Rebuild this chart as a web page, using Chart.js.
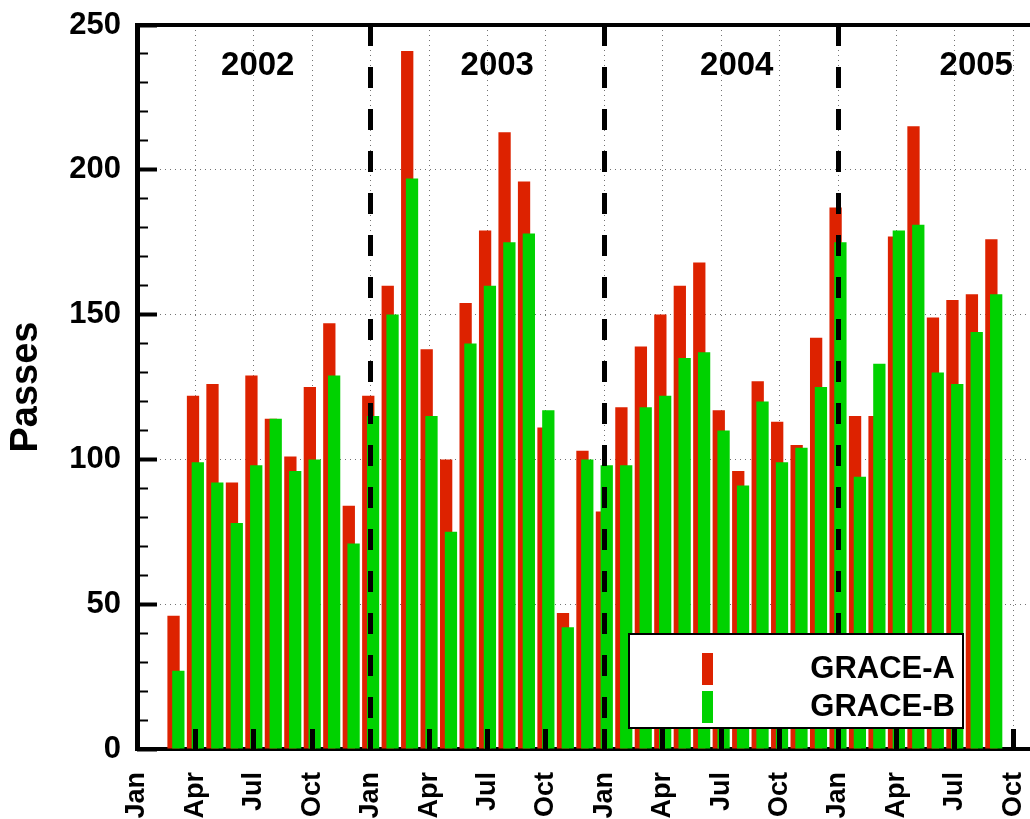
<!DOCTYPE html>
<html>
<head>
<meta charset="utf-8">
<title>GRACE passes</title>
<script src="https://cdn.jsdelivr.net/npm/chart.js@4.4.1/dist/chart.umd.min.js"></script>
<style>
  html, body { margin: 0; padding: 0; background: #fff; overflow: hidden; }
  canvas { display: block; }
</style>
</head>
<body>
<canvas id="passesChart" width="1030" height="819"></canvas>
<script>
// Months with data (Mar 2002 .. Sep 2005)
const months = [
  'Mar 2002', 'Apr 2002', 'May 2002', 'Jun 2002', 'Jul 2002', 'Aug 2002', 'Sep 2002', 'Oct 2002', 'Nov 2002', 'Dec 2002',
  'Jan 2003', 'Feb 2003', 'Mar 2003', 'Apr 2003', 'May 2003', 'Jun 2003', 'Jul 2003', 'Aug 2003', 'Sep 2003', 'Oct 2003', 'Nov 2003', 'Dec 2003',
  'Jan 2004', 'Feb 2004', 'Mar 2004', 'Apr 2004', 'May 2004', 'Jun 2004', 'Jul 2004', 'Aug 2004', 'Sep 2004', 'Oct 2004', 'Nov 2004', 'Dec 2004',
  'Jan 2005', 'Feb 2005', 'Mar 2005', 'Apr 2005', 'May 2005', 'Jun 2005', 'Jul 2005', 'Aug 2005', 'Sep 2005'
];
const graceA = [
  46, 122, 126, 92, 129, 114, 101, 125, 147, 84,
  122, 160, 241, 138, 100, 154, 179, 213, 196, 111, 47, 103,
  82, 118, 139, 150, 160, 168, 117, 96, 127, 113, 105, 142,
  187, 115, 115, 177, 215, 149, 155, 157, 176
];
const graceB = [
  27, 99, 92, 78, 98, 114, 96, 100, 129, 71,
  115, 150, 197, 115, 75, 140, 160, 175, 178, 117, 42, 100,
  98, 98, 118, 122, 135, 137, 110, 91, 120, 99, 104, 125,
  175, 94, 133, 179, 181, 130, 126, 144, 157
];
const quarterLabels = ['Jan', 'Apr', 'Jul', 'Oct'];
const yearLabels = ['2002', '2003', '2004', '2005'];
const yearLabelAt = [6.2, 18.5, 30.8, 43.1];   // month units from Jan 2002
const yearLabelY = 236;

const monthNames = ['Jan', 'Feb', 'Mar', 'Apr', 'May', 'Jun', 'Jul', 'Aug', 'Sep', 'Oct', 'Nov', 'Dec'];
const monthPos = months.map(m => {
  const [name, year] = m.split(' ');
  return (Number(year) - 2002) * 12 + monthNames.indexOf(name);
});

const FONT = "'Liberation Sans', Arial, Helvetica, sans-serif";
const X_MAX = 45.86;
const dotted = 'rgba(0, 0, 0, 0.55)';

// no extra room around the plot for half labels
function noPad(s) {
  s.paddingLeft = 0;
  s.paddingRight = 0;
  s.paddingTop = 0;
  s.paddingBottom = 0;
}

// red first (left of pair), green drawn on top of it
const barOrder = {
  id: 'barOrder',
  beforeDatasetsDraw(chart) {
    chart.getSortedVisibleDatasetMetas().forEach(m => m.controller.draw());
    return false;
  }
};

const yearText = {
  id: 'yearText',
  afterDraw(chart) {
    const { ctx, scales } = chart;
    ctx.save();
    ctx.font = 'bold 33px ' + FONT;
    ctx.fillStyle = '#000';
    ctx.textAlign = 'center';
    ctx.textBaseline = 'middle';
    yearLabels.forEach((t, i) => {
      ctx.fillText(t, scales.x.getPixelForValue(yearLabelAt[i]), scales.y.getPixelForValue(yearLabelY));
    });
    ctx.restore();
  }
};

const legendBox = {
  id: 'legendBox',
  afterDraw(chart) {
    const { ctx, chartArea } = chart;
    const w = 334, h = 94;
    const left = chartArea.right - 67 - w;
    const top = chartArea.bottom - 21 - h;
    ctx.save();
    ctx.fillStyle = '#fff';
    ctx.fillRect(left, top, w, h);
    ctx.lineWidth = 2;
    ctx.strokeStyle = '#000';
    ctx.strokeRect(left, top, w, h);
    ctx.font = 'bold 31px ' + FONT;
    ctx.textAlign = 'right';
    ctx.textBaseline = 'alphabetic';
    chart.data.datasets.forEach((ds, i) => {
      const rowTop = top + 19 + i * 38;
      ctx.fillStyle = ds.backgroundColor;
      ctx.fillRect(left + 73, rowTop, 11, 32);
      ctx.fillStyle = '#000';
      ctx.fillText(ds.label, left + w - 8, rowTop + 25);
    });
    ctx.restore();
  }
};

new Chart(document.getElementById('passesChart'), {
  type: 'bar',
  data: {
    labels: monthPos,
    datasets: [
      { label: 'GRACE-A', data: graceA, backgroundColor: '#dd2200', borderWidth: 0 },
      { label: 'GRACE-B', data: graceB, backgroundColor: '#00d200', borderWidth: 0 }
    ]
  },
  options: {
    responsive: false,
    devicePixelRatio: 1,
    animation: false,
    categoryPercentage: 0.493,
    barPercentage: 2.56,
    layout: { padding: { top: 25, left: 0, right: 0, bottom: 0 } },
    plugins: {
      legend: { display: false },
      tooltip: { enabled: false }
    },
    scales: {
      x: {
        type: 'linear',
        position: 'bottom',
        weight: 1,
        min: 0,
        max: X_MAX,
        offset: false,
        ticks: {
          stepSize: 3,
          includeBounds: false,
          autoSkip: false,
          minRotation: 90,
          maxRotation: 90,
          padding: 23,
          color: '#000',
          font: { family: FONT, size: 27, weight: 'bold' },
          callback: v => quarterLabels[(v / 3) % 4]
        },
        grid: { offset: false, color: dotted, lineWidth: 1, drawTicks: false },
        border: { display: true, color: '#000', width: 4, dash: [1, 4] },
        afterFit: s => { s.height = 70; noPad(s); }
      },
      xMarks: {
        type: 'linear',
        position: 'bottom',
        weight: 0,
        min: 0,
        max: X_MAX,
        offset: false,
        ticks: { stepSize: 3, includeBounds: false, display: false },
        grid: {
          z: 1,
          offset: false,
          lineWidth: 5,
          color: c => (c.tick && c.tick.value % 12 === 0) ? '#000' : 'rgba(0,0,0,0)',
          tickLength: -20,
          tickWidth: 5,
          tickColor: '#000'
        },
        border: { display: false, dash: [21, 21] },
        afterFit: s => { s.height = 0; noPad(s); }
      },
      xTop: {
        type: 'linear',
        position: 'top',
        min: 0,
        max: X_MAX,
        offset: false,
        ticks: { display: false },
        grid: { offset: false, drawOnChartArea: false, drawTicks: false },
        border: { display: true, color: '#000', width: 4 },
        afterFit: s => { s.height = 0; noPad(s); }
      },
      y: {
        position: 'left',
        weight: 1,
        min: 0,
        max: 250,
        ticks: {
          stepSize: 50,
          padding: 16,
          color: '#000',
          font: { family: FONT, size: 31, weight: 'bold' }
        },
        grid: { color: dotted, lineWidth: 1, drawTicks: false },
        border: { display: true, color: '#000', width: 5, dash: [1, 4] },
        title: {
          display: true,
          text: 'Passes',
          color: '#000',
          font: { family: FONT, size: 38, weight: 'bold' },
          padding: { top: 4, bottom: 0 }
        },
        afterFit: s => { s.width = 137; noPad(s); }
      },
      yMajor: {
        position: 'left',
        weight: 0,
        min: 0,
        max: 250,
        ticks: { stepSize: 50, display: false },
        grid: { drawOnChartArea: false, tickLength: -20, tickWidth: 4, tickColor: '#000' },
        border: { display: false },
        afterFit: s => { s.width = 0; noPad(s); }
      },
      yMinor: {
        position: 'left',
        weight: 0,
        min: 0,
        max: 250,
        ticks: { stepSize: 10, display: false },
        grid: { drawOnChartArea: false, tickLength: -11, tickWidth: 2, tickColor: '#000' },
        border: { display: false },
        afterFit: s => { s.width = 0; noPad(s); }
      }
    }
  },
  plugins: [barOrder, yearText, legendBox]
});
</script>
</body>
</html>
